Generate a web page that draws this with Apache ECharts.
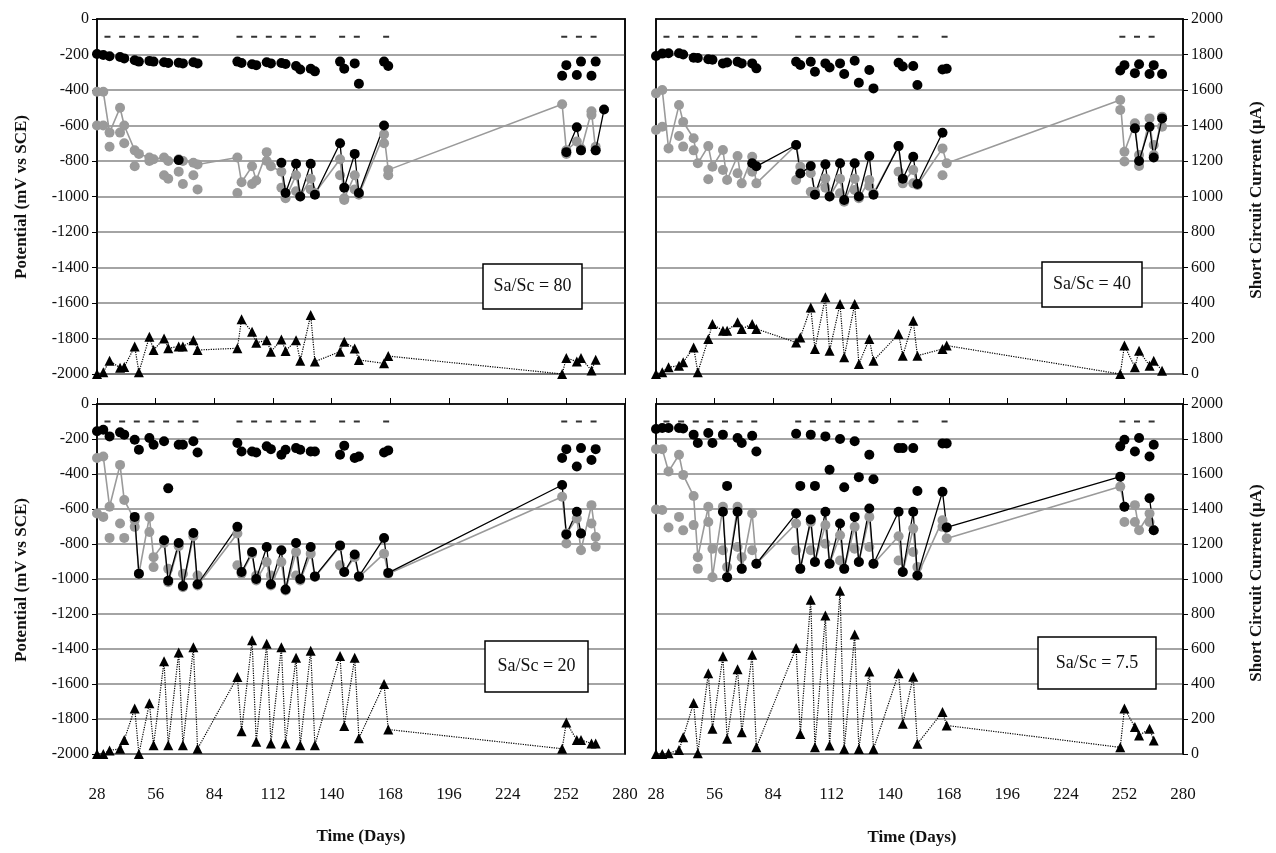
<!DOCTYPE html>
<html>
<head>
<meta charset="utf-8">
<title>Potential and short circuit current vs time</title>
<script src="https://cdn.jsdelivr.net/npm/echarts@6/dist/echarts.min.js"></script>
<style>
  html, body { margin: 0; padding: 0; background: #fff; }
  #chart { width: 1276px; height: 853px; }
</style>
</head>
<body>
<div id="chart"></div>
<script>
// measurement days shared by all four specimens
const days = [28, 31, 34, 39, 41, 46, 48, 53, 55, 60, 62, 67, 69, 74, 76,
  95, 97, 102, 104, 109, 111, 116, 118, 123, 125, 130, 132,
  144, 146, 151, 153, 165, 167,
  250, 252, 257, 259, 264, 266, 270]
const dashDays = [33, 40, 47, 54, 61, 68, 75, 96, 103, 110, 117, 124, 131, 145, 152, 166, 251, 258, 265]
const dashLevel = -100
const _ = '-'

// Sa/Sc = 80
const tlTop = [-197, -203, -210, -214, -222, -232, -240, -236, -240, -244, -248, -246, -250, -244, -250,
  -240, -248, -255, -260, -244, -250, -248, -254, -265, -285, -280, -295,
  -240, -280, -250, -365, -240, -265,
  -320, -260, -315, -240, -320, -240, _]
const tlGreyLine = [-410, -410, -640, -500, -600, -740, -760, -780, -790, -780, -800, -790, -800, -810, -820,
  -780, -920, -830, -910, -750, -830, -860, -1010, -880, -1000, -900, -980,
  -790, -1010, -880, -990, -650, -850,
  -480, -740, -690, -740, -520, -740, _]
const tlGreyDots = [-600, -600, -720, -640, -700, -830, _, -800, _, -880, -900, -860, -930, -880, -960,
  -980, _, -930, _, -800, _, -950, _, -970, _, -960, _,
  -880, -1020, -960, _, -700, -880,
  _, -760, _, -730, -540, -720, _]
const tlBlackLine = [_, _, _, _, _, _, _, _, _, _, _, -795, _, _, _,
  _, _, _, _, _, _, -810, -980, -815, -1000, -815, -990,
  -700, -950, -760, -980, -600, _,
  _, -750, -610, -740, _, -740, -510]
const tlCurrent = [0, 10, 75, 35, 40, 155, 10, 210, 135, 200, 145, 155, 155, 190, 135,
  145, 308, 238, 176, 190, 125, 195, 130, 190, 75, 332, 70,
  126, 182, 144, 79, 60, 101,
  0, 90, 70, 90, 20, 80, _]

// Sa/Sc = 40
const trTop = [-208, -195, -193, -193, -200, -218, -220, -227, -230, -250, -245, -241, -250, -250, -278,
  -241, -259, -241, -297, -250, -273, -250, -310, -235, -359, -287, -391,
  -246, -268, -265, -372, -285, -280,
  -290, -260, -305, -255, -310, -260, -310]
const trGreyLine = [-419, -400, -729, -485, -580, -672, -813, -716, -832, -738, -907, -772, -926, -776, -926,
  -710, -832, -869, -973, -898, -1000, -900, -1029, -900, -1010, -907, -982,
  -716, -926, -851, -935, -729, -813,
  -456, -748, -588, -828, -560, -766, -550]
const trGreyDots = [-625, -607, _, -659, -719, -740, _, -903, _, -851, _, -869, _, -860, _,
  -907, _, -973, _, -950, _, -982, _, -963, _, -940, _,
  -860, _, -926, _, -880, _,
  -512, -803, _, -766, _, -710, -607]
const trBlackLine = [_, _, _, _, _, _, _, _, _, _, _, _, _, -813, -830,
  -710, -870, -828, -990, -819, -1000, -813, -1020, -813, -1000, -772, -990,
  -716, -900, -776, -930, -641, _,
  _, _, -616, -800, -607, -780, -560]
const trCurrent = [0, 10, 38, 47, 66, 150, 10, 197, 282, 244, 244, 291, 254, 282, 254,
  178, 206, 375, 141, 432, 131, 394, 94, 394, 56, 197, 75,
  225, 103, 300, 103, 141, 160,
  0, 160, 38, 131, 47, 75, 19]

// Sa/Sc = 20
const blTop = [-156, -147, -185, -162, -175, -204, -261, -194, -233, -213, -482, -233, -233, -213, -277,
  -223, -271, -271, -277, -242, -258, -290, -261, -252, -261, -271, -271,
  -290, -238, -309, -300, -277, -265,
  -309, -258, -357, -252, -320, -258, _]
const blGreyLine = [-309, -300, -587, -348, -549, -664, -970, -645, -875, -794, -1018, -813, -1047, -756, -1037,
  -740, -970, -855, -1008, -903, -1037, -903, -1066, -846, -1008, -855, -989,
  -813, -960, -875, -989, -855, -970,
  -530, -740, -654, -836, -578, -760, _]
const blGreyDots = [-626, -645, -765, -683, -765, -702, _, -731, -932, _, -942, _, -970, _, -980,
  -922, _, _, -980, _, -980, _, _, -980, _, _, _,
  -922, _, _, _, _, _,
  _, -797, _, -740, -683, -816, _]
const blBlackLine = [_, _, _, _, _, -645, -970, _, _, -779, -1010, -794, -1040, -737, -1030,
  -702, -960, -846, -1000, -817, -1030, -836, -1060, -794, -1000, -817, -985,
  -808, -960, -860, -985, -766, -965,
  -463, -745, -616, -740, _, _, _]
const blCurrent = [0, 0, 20, 30, 80, 260, 0, 290, 50, 530, 50, 580, 50, 610, 30,
  440, 130, 650, 70, 630, 60, 610, 60, 550, 50, 590, 50,
  560, 160, 550, 90, 400, 140,
  30, 180, 80, 80, 60, 60, _]

// Sa/Sc = 7.5
const brTop = [-143, -137, -137, -137, -140, -175, -223, -166, -223, -175, -468, -194, -223, -181, -271,
  -170, -468, -175, -468, -185, -376, -200, -476, -213, -418, -290, -430,
  -252, -252, -252, -497, -225, -225,
  -242, -204, -271, -194, -300, -233, _]
const brGreyLine = [-258, -258, -386, -290, -405, -526, -875, -587, -990, -587, -990, -587, -942, -626, -913,
  -683, -942, -674, -903, -692, -913, -750, -942, -702, -903, -645, -913,
  -756, -960, -712, -980, -664, -768,
  -472, -587, -578, -721, -626, -721, _]
const brGreyDots = [-603, -606, -706, -645, -722, -692, -942, -674, -827, -836, -932, -817, -875, -836, _,
  -836, _, -836, _, -798, _, -894, _, -827, _, -817, _,
  -894, _, -846, -932, -702, -705,
  _, -674, -674, _, -674, _, _]
const brBlackLine = [_, _, _, _, _, _, _, _, _, -616, -990, -616, -942, _, -913,
  -626, -942, -660, -903, -616, -913, -683, -942, -645, -903, -597, -913,
  -616, -960, -616, -980, -501, -705,
  -415, -587, _, _, -539, -721, _]
const brCurrent = [0, 0, 4, 23, 96, 292, 4, 461, 144, 558, 87, 485, 125, 567, 38,
  606, 115, 881, 38, 792, 48, 933, 29, 683, 29, 471, 29,
  461, 173, 442, 58, 240, 163,
  38, 260, 154, 106, 144, 77, _]

const panels = [
  { label: 'Sa/Sc = 80', top: tlTop, greyLine: tlGreyLine, greyDots: tlGreyDots, blackLine: tlBlackLine, current: tlCurrent },
  { label: 'Sa/Sc = 40', top: trTop, greyLine: trGreyLine, greyDots: trGreyDots, blackLine: trBlackLine, current: trCurrent },
  { label: 'Sa/Sc = 20', top: blTop, greyLine: blGreyLine, greyDots: blGreyDots, blackLine: blBlackLine, current: blCurrent },
  { label: 'Sa/Sc = 7.5', top: brTop, greyLine: brGreyLine, greyDots: brGreyDots, blackLine: brBlackLine, current: brCurrent },
]

// layout
const grids = [
  { left: 97, top: 19, width: 528, height: 355 },
  { left: 656, top: 19, width: 527, height: 355 },
  { left: 97, top: 404, width: 528, height: 350 },
  { left: 656, top: 404, width: 527, height: 350 },
]
const boxes = [
  { x: 483, y: 264, w: 99, h: 45 },
  { x: 1042, y: 262, w: 100, h: 45 },
  { x: 485, y: 641, w: 103, h: 51 },
  { x: 1038, y: 637, w: 118, h: 52 },
]

const serif = 'Liberation Serif'
const grey = '#9a9a9a'
const pts = (ys) => days.map((d, i) => [d, ys[i]])
const plain = (v) => String(v)

const chart = echarts.init(document.getElementById('chart'))

const xAxis = grids.map((g, i) => ({
  type: 'value', gridIndex: i, min: 28, max: 280, interval: 28,
  axisLine: { show: true, lineStyle: { color: '#000', width: 1.5 } },
  axisTick: { show: i >= 2, inside: true, length: 6, lineStyle: { color: '#000' } },
  axisLabel: { show: i >= 2, margin: 32, color: '#111', fontFamily: serif, fontSize: 17, formatter: plain },
  splitLine: { show: false },
}))

const yAxis = []
grids.forEach((g, i) => {
  const leftCol = i % 2 === 0
  yAxis.push({
    type: 'value', gridIndex: i, min: -2000, max: 0, interval: 200, position: 'left',
    axisLine: { show: true, lineStyle: { color: '#000', width: 1.5 } },
    axisTick: { show: leftCol, length: 5, lineStyle: { color: '#000' } },
    axisLabel: { show: leftCol, margin: 8, color: '#111', fontFamily: serif, fontSize: 16, formatter: plain },
    splitLine: { show: true, lineStyle: { color: '#868686', width: 1.5 } },
  })
  yAxis.push({
    type: 'value', gridIndex: i, min: 0, max: 2000, interval: 200, position: 'right',
    axisLine: { show: true, lineStyle: { color: '#000', width: 1.5 } },
    axisTick: { show: !leftCol, length: 5, lineStyle: { color: '#000' } },
    axisLabel: { show: !leftCol, margin: 8, color: '#111', fontFamily: serif, fontSize: 16, formatter: plain },
    splitLine: { show: false },
  })
})

const series = []
panels.forEach((p, i) => {
  const base = { xAxisIndex: i, yAxisIndex: 2 * i, silent: true, animation: false }
  series.push({
    ...base, type: 'line', data: pts(p.greyLine), connectNulls: true,
    symbol: 'circle', symbolSize: 10,
    lineStyle: { color: grey, width: 1.6 }, itemStyle: { color: grey, opacity: 1 },
  })
  series.push({
    ...base, type: 'scatter', data: pts(p.greyDots),
    symbol: 'circle', symbolSize: 10, itemStyle: { color: grey, opacity: 1 },
  })
  series.push({
    ...base, type: 'line', data: pts(p.blackLine), connectNulls: false,
    symbol: 'circle', symbolSize: 10,
    lineStyle: { color: '#000', width: 1.3 }, itemStyle: { color: '#000', opacity: 1 },
  })
  series.push({
    ...base, type: 'scatter', data: pts(p.top),
    symbol: 'circle', symbolSize: 10, itemStyle: { color: '#000', opacity: 1 },
  })
  series.push({
    ...base, type: 'scatter', data: dashDays.map((d) => [d, dashLevel]),
    symbol: 'rect', symbolSize: [6, 2], itemStyle: { color: '#333', opacity: 1 },
  })
  series.push({
    ...base, yAxisIndex: 2 * i + 1, type: 'line', data: pts(p.current), connectNulls: false,
    symbol: 'triangle', symbolSize: 10,
    lineStyle: { color: '#000', width: 1.2, type: 'dotted' }, itemStyle: { color: '#000', opacity: 1 },
  })
})

const graphic = []
boxes.forEach((b, i) => {
  graphic.push({
    type: 'rect', shape: { x: b.x, y: b.y, width: b.w, height: b.h }, z: 100,
    style: { fill: '#fff', stroke: '#000', lineWidth: 1.5 },
  })
  graphic.push({
    type: 'text', x: b.x + b.w / 2, y: b.y + b.h / 2, z: 101,
    style: { text: panels[i].label, fill: '#111', font: '18px "Liberation Serif"', align: 'center', verticalAlign: 'middle' },
  })
})
const titleFont = 'bold 17px "Liberation Serif"'
;[197, 580].forEach((cy) => {
  graphic.push({
    type: 'text', x: 22, y: cy, rotation: Math.PI / 2,
    style: { text: 'Potential (mV vs SCE)', fill: '#111', font: titleFont, align: 'center', verticalAlign: 'middle' },
  })
  graphic.push({
    type: 'text', x: 1257, y: cy + 3, rotation: Math.PI / 2,
    style: { text: 'Short Circuit Current (\u00b5A)', fill: '#111', font: titleFont, align: 'center', verticalAlign: 'middle' },
  })
})
graphic.push({
  type: 'text', x: 361, y: 837,
  style: { text: 'Time (Days)', fill: '#111', font: titleFont, align: 'center', verticalAlign: 'middle' },
})
graphic.push({
  type: 'text', x: 912, y: 838,
  style: { text: 'Time (Days)', fill: '#111', font: titleFont, align: 'center', verticalAlign: 'middle' },
})

chart.setOption({
  animation: false,
  grid: grids.map((g) => ({ ...g, show: true, borderColor: '#000', borderWidth: 1.5, backgroundColor: 'transparent' })),
  xAxis,
  yAxis,
  series,
  graphic,
})
</script>
</body>
</html>
